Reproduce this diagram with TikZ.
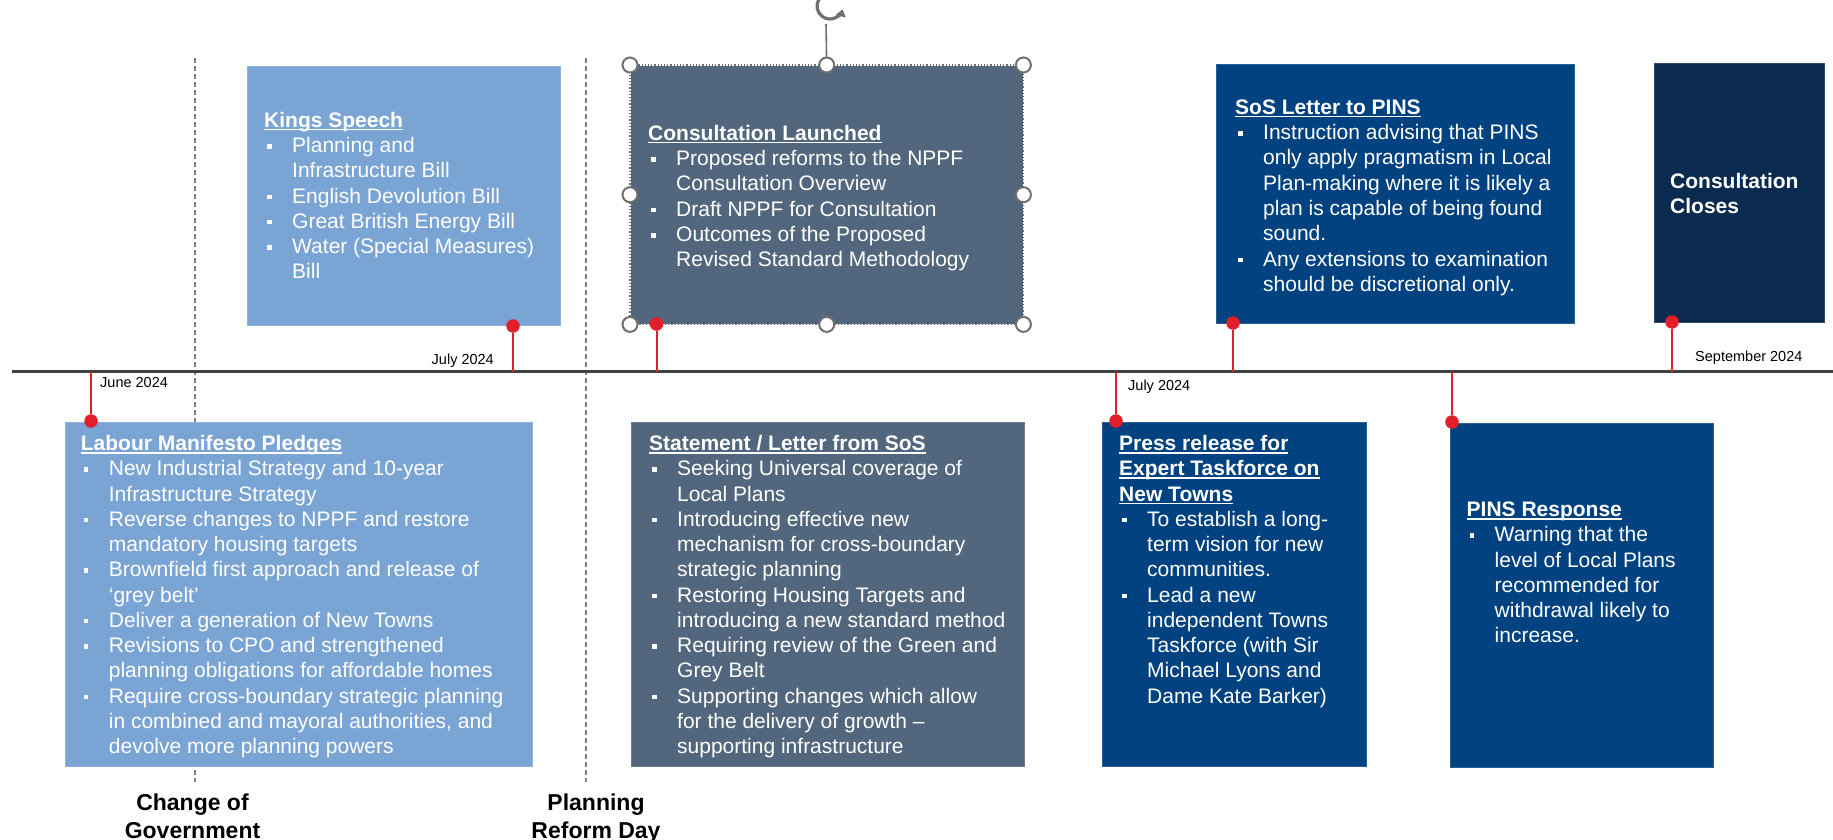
\documentclass[tikz,border=0pt]{standalone}
\usepackage{fontspec}
\setmainfont{Liberation Sans}
\usetikzlibrary{arrows.meta}
\definecolor{lblue}{HTML}{7AA4D4}
\definecolor{slate}{HTML}{52677D}
\definecolor{navy}{HTML}{024280}
\definecolor{dnavy}{HTML}{0A2A50}
\definecolor{tred}{HTML}{E31E2B}
\definecolor{tgray}{HTML}{404040}
\definecolor{hgray}{HTML}{707070}
\newcommand{\tul}[1]{{\bfseries\setbox0\hbox{#1}\rlap{\rule[-3pt]{\wd0}{1.4pt}}\box0}}
\newcommand{\bu}{\hspace*{3pt}\rule[4pt]{4.5pt}{4.5pt}}
\tikzset{
  evbox/.style={fill=#1, draw=#1!85!white, line width=0.8pt, anchor=north west, inner sep=0pt},
  txt/.style={anchor=base west, inner sep=0pt, text=white, font=\fontsize{21}{25.25}\selectfont},
  datelbl/.style={inner sep=0pt, text=black, font=\fontsize{14.5}{16}\selectfont},
  milestone/.style={anchor=base, inner sep=0pt, text=black, font=\bfseries\fontsize{23}{28}\selectfont},
  dot/.style={circle, fill=tred, inner sep=0pt, minimum size=13.5pt},
  redline/.style={draw=tred, line width=2pt},
  timeline/.style={draw=tgray, line width=2.5pt},
  divider/.style={draw=gray, line width=1.3pt, dash pattern=on 5pt off 3pt},
  handle/.style={circle, fill=white, draw=hgray, line width=2pt, inner sep=0pt, minimum size=15pt},
}
\begin{document}
\begin{tikzpicture}[x=1pt,y=-1pt]
\useasboundingbox (0,0) rectangle (1833,840);

% dividers
\coordinate (d1t) at (195,58); \coordinate (d1b) at (195,782);
\coordinate (d2t) at (586,58); \coordinate (d2b) at (586,782);
\draw[divider] (d1t) -- (d1b);
\draw[divider] (d2t) -- (d2b);

% timeline
\coordinate (tlL) at (12,371.5); \coordinate (tlR) at (1833,371.5);
\draw[timeline] (tlL) -- (tlR);

% boxes
\node[evbox=lblue, minimum width=312.5pt, minimum height=259pt] (kings) at (247,66) {};
\node[fill=slate, inner sep=0pt, anchor=north west, minimum width=393pt, minimum height=259pt] (consult) at (630,65) {};
\node[evbox=navy, minimum width=358pt, minimum height=259pt] (sos) at (1216,64) {};
\node[evbox=dnavy, minimum width=170.5pt, minimum height=259pt] (closes) at (1653.5,63) {};
\node[evbox=lblue, minimum width=467.5pt, minimum height=344pt] (labour) at (64.5,422) {};
\node[evbox=slate, minimum width=393pt, minimum height=344pt] (statement) at (631,422) {};
\node[evbox=navy, minimum width=264pt, minimum height=344pt] (press) at (1102,422) {};
\node[evbox=navy, minimum width=263.5pt, minimum height=344pt] (pins) at (1449.5,423) {};

% selection frame on the consultation box
\draw[white, line width=1.2pt] (consult.north west) rectangle (consult.south east);
\draw[hgray, line width=1.2pt, dotted] (consult.north west) rectangle (consult.south east);
\coordinate (rot) at (826,24);
\draw[hgray, line width=1.6pt] (consult.north) -- (rot);
\draw[hgray, line width=3.2pt, -{Triangle[length=7pt,width=10pt]}] (830,6) ++(215:13) arc[start angle=215, end angle=15, radius=13];
\foreach \a in {north west,north,north east,west,east,south west,south,south east}
  \node[handle] at (consult.\a) {};

% timeline coordinates
\coordinate (tKings) at (513,371.5);
\coordinate (tConsult) at (656.5,371.5);
\coordinate (tSos) at (1233,371.5);
\coordinate (tCloses) at (1672,371.5);
\coordinate (tLabour) at (91,371.5);
\coordinate (tPress) at (1116,371.5);
\coordinate (tPins) at (1452,371.5);

% dots
\node[dot] (dKings) at (513,326) {};
\node[dot] (dConsult) at (656.5,324) {};
\node[dot] (dSos) at (1233,323) {};
\node[dot] (dCloses) at (1672,322) {};
\node[dot] (dLabour) at (91,421) {};
\node[dot] (dPress) at (1116,421) {};
\node[dot] (dPins) at (1452,422) {};

\draw[redline] (dKings) -- (tKings);
\draw[redline] (dConsult) -- (tConsult);
\draw[redline] (dSos) -- (tSos);
\draw[redline] (dCloses) -- (tCloses);
\draw[redline] (tLabour) -- (dLabour);
\draw[redline] (tPress) -- (dPress);
\draw[redline] (tPins) -- (dPins);

% date labels
\node[datelbl, anchor=base west] (june) at (100,387.2) {June 2024};
\node[datelbl, anchor=base east] (julyA) at (494,364.2) {July 2024};
\node[datelbl, anchor=base west] (julyB) at (1128,390.2) {July 2024};
\node[datelbl, anchor=base west] (sept) at (1695,361.2) {September 2024};

% milestone labels
\node[milestone] (gov) at (192.5,810) {\begin{tabular}[t]{@{}c@{}}Change of\\[0pt]Government\end{tabular}};
\node[milestone] (prd) at (596,810) {\begin{tabular}[t]{@{}c@{}}Planning\\[0pt]Reform Day\end{tabular}};

% texts
\node[txt] (kingsT) at (264,127.5) {\begin{tabular}[t]{@{}p{28pt}@{}l@{}}
\multicolumn{2}{@{}l@{}}{\tul{Kings Speech}}\\
\bu & Planning and\\
 & Infrastructure Bill\\
\bu & English Devolution Bill\\
\bu & Great British Energy Bill\\
\bu & Water (Special Measures)\\
 & Bill
\end{tabular}};

\node[txt] (consultT) at (648,140.5) {\begin{tabular}[t]{@{}p{28pt}@{}l@{}}
\multicolumn{2}{@{}l@{}}{\tul{Consultation Launched}}\\
\bu & Proposed reforms to the NPPF\\
 & Consultation Overview\\
\bu & Draft NPPF for Consultation\\
\bu & Outcomes of the Proposed\\
 & Revised Standard Methodology
\end{tabular}};

\node[txt] (sosT) at (1235,114.5) {\begin{tabular}[t]{@{}p{28pt}@{}l@{}}
\multicolumn{2}{@{}l@{}}{\tul{SoS Letter to PINS}}\\
\bu & Instruction advising that PINS\\
 & only apply pragmatism in Local\\
 & Plan-making where it is likely a\\
 & plan is capable of being found\\
 & sound.\\
\bu & Any extensions to examination\\
 & should be discretional only.
\end{tabular}};

\node[txt, font=\bfseries\fontsize{21}{25.25}\selectfont] (closesT) at (1670,188.5) {\begin{tabular}[t]{@{}l@{}}
Consultation\\
Closes
\end{tabular}};

\node[txt] (labourT) at (80.7,450.5) {\begin{tabular}[t]{@{}p{28pt}@{}l@{}}
\multicolumn{2}{@{}l@{}}{\tul{Labour Manifesto Pledges}}\\
\bu & New Industrial Strategy and 10-year\\
 & Infrastructure Strategy\\
\bu & Reverse changes to NPPF and restore\\
 & mandatory housing targets\\
\bu & Brownfield first approach and release of\\
 & ‘grey belt’\\
\bu & Deliver a generation of New Towns\\
\bu & Revisions to CPO and strengthened\\
 & planning obligations for affordable homes\\
\bu & Require cross-boundary strategic planning\\
 & in combined and mayoral authorities, and\\
 & devolve more planning powers
\end{tabular}};

\node[txt] (statementT) at (649,450.5) {\begin{tabular}[t]{@{}p{28pt}@{}l@{}}
\multicolumn{2}{@{}l@{}}{\tul{Statement / Letter from SoS}}\\
\bu & Seeking Universal coverage of\\
 & Local Plans\\
\bu & Introducing effective new\\
 & mechanism for cross-boundary\\
 & strategic planning\\
\bu & Restoring Housing Targets and\\
 & introducing a new standard method\\
\bu & Requiring review of the Green and\\
 & Grey Belt\\
\bu & Supporting changes which allow\\
 & for the delivery of growth –\\
 & supporting infrastructure
\end{tabular}};

\node[txt] (pressT) at (1119,450.5) {\begin{tabular}[t]{@{}p{28pt}@{}l@{}}
\multicolumn{2}{@{}l@{}}{\tul{Press release for}}\\
\multicolumn{2}{@{}l@{}}{\tul{Expert Taskforce on}}\\
\multicolumn{2}{@{}l@{}}{\tul{New Towns}}\\
\bu & To establish a long-\\
 & term vision for new\\
 & communities.\\
\bu & Lead a new\\
 & independent Towns\\
 & Taskforce (with Sir\\
 & Michael Lyons and\\
 & Dame Kate Barker)
\end{tabular}};

\node[txt] (pinsT) at (1466.5,516.5) {\begin{tabular}[t]{@{}p{28pt}@{}l@{}}
\multicolumn{2}{@{}l@{}}{\tul{PINS Response}}\\
\bu & Warning that the\\
 & level of Local Plans\\
 & recommended for\\
 & withdrawal likely to\\
 & increase.
\end{tabular}};
\end{tikzpicture}
\end{document}
